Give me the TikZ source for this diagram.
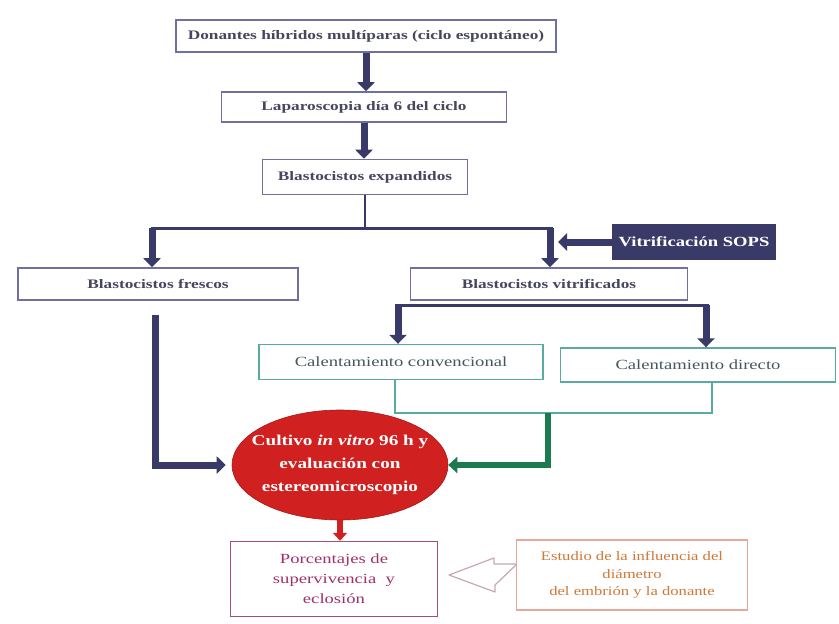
\documentclass[tikz,border=0pt]{standalone}
\usepackage{fontspec}
\setmainfont{Liberation Serif}
\newfontfamily\wideserif[FakeStretch=1.33]{Liberation Serif}
\newfontfamily\wideserifb[FakeStretch=1.28]{Liberation Serif}
\usetikzlibrary{arrows.meta,shapes.geometric}
\definecolor{navy}{HTML}{3A3A68}
\definecolor{boxline}{HTML}{7070A0}
\definecolor{boxtext}{HTML}{46465E}
\definecolor{tealline}{HTML}{5AAAA2}
\definecolor{tealtext}{HTML}{44585C}
\definecolor{darkgreen}{HTML}{1C7A50}
\definecolor{ovalred}{HTML}{D02020}
\definecolor{plum}{HTML}{A05080}
\definecolor{plumtext}{HTML}{A0306A}
\definecolor{peach}{HTML}{E8A898}
\definecolor{orangetext}{HTML}{D07838}
\definecolor{openarrow}{HTML}{C8A8B0}
\tikzset{
  x=1pt, y=-1pt,
  every node/.style={align=center, inner sep=2pt},
  flowbox/.style={draw=boxline, line width=1.6pt, fill=white, text=boxtext,
    font=\wideserif\bfseries\fontsize{13}{15}\selectfont},
  warmbox/.style={draw=tealline, line width=1.4pt, fill=white, text=tealtext,
    font=\wideserif\fontsize{14}{16}\selectfont},
  bigarrow/.style={draw=navy, line width=7pt, -{Triangle[width=17pt,length=9pt]}},
  splitline/.style={draw=navy, line width=3pt},
  greenarrow/.style={draw=darkgreen, line width=6pt, -{Triangle[width=16pt,length=9pt]}},
  redarrow/.style={draw=ovalred, line width=6pt, -{Triangle[width=14pt,length=8pt]}},
}
\begin{document}
\begin{tikzpicture}
\useasboundingbox (0,0) rectangle (839,624);

% main column
\node[flowbox, minimum width=380pt, minimum height=32pt] (donor) at (366,36)
  {Donantes híbridos multíparas (ciclo espontáneo)};
\node[flowbox, minimum width=285pt, minimum height=30pt] (lap) at (364,107)
  {Laparoscopia día 6 del ciclo};
\node[flowbox, minimum width=205pt, minimum height=35pt] (expand) at (365,177)
  {Blastocistos expandidos};
\node[draw=navy, fill=navy, line width=1pt, text=white,
  font=\wideserif\bfseries\fontsize{14}{16}\selectfont,
  minimum width=163pt, minimum height=35pt] (sops) at (694,242) {Vitrificación SOPS};
\node[flowbox, minimum width=280pt, minimum height=32pt] (fresh) at (158,284)
  {Blastocistos frescos};
\node[flowbox, minimum width=277pt, minimum height=32pt] (vitri) at (549,284)
  {Blastocistos vitrificados};
\node[warmbox, minimum width=284pt, minimum height=35pt] (conv) at (401,362)
  {Calentamiento convencional};
\node[warmbox, minimum width=275pt, minimum height=34pt] (direct) at (698,365)
  {Calentamiento directo};

% red culture oval, with its text set on top
\node[ellipse, fill=ovalred, draw=ovalred!80!black, line width=0.6pt,
  minimum width=216pt, minimum height=110pt, inner sep=0pt] (culture) at (340,465) {};
\node[text=white, font=\wideserifb\bfseries\fontsize{15}{23}\selectfont, inner sep=0pt]
  (culturetext) at (culture.center)
  {Cultivo \textit{in vitro} 96 h y\\ evaluación con\\ estereomicroscopio};

\node[draw=plum, line width=1.4pt, fill=white, text=plumtext,
  font=\wideserif\fontsize{14}{20}\selectfont,
  minimum width=207pt, minimum height=75pt] (rates) at (334,579)
  {Porcentajes de\\ supervivencia \ y\\ eclosión};
\node[draw=peach, line width=1.2pt, fill=white, text=orangetext,
  font=\wideserifb\fontsize{13}{17.5}\selectfont,
  minimum width=231pt, minimum height=70pt] (study) at (632,575)
  {Estudio de la influencia del\\ diámetro\\ del embrión y la donante};

% junction points
\coordinate (split) at (365,228);
\coordinate (splitL) at (152,228);
\coordinate (splitR) at (550,228);
\coordinate (sopsTip) at (558,242);
\coordinate (vsplitL) at (398,305);
\coordinate (vsplitR) at (706,305);
\coordinate (freshStart) at (155,315);
\coordinate (warmL) at (395,413);
\coordinate (warmR) at (712,413);
\coordinate (warmMid) at (548,413);

% connectors
\draw[bigarrow] (donor.south) -- (donor.south |- lap.north);
\draw[bigarrow] (lap.south) -- (lap.south |- expand.north);
\draw[draw=navy, line width=1.4pt] (expand.south) -- (split);
\draw[splitline] ([xshift=-1.5pt]splitL) -- ([xshift=3pt]splitR);
\draw[bigarrow] (splitL) -- (splitL |- fresh.north);
\draw[bigarrow] (splitR) -- (splitR |- vitri.north);
\draw[bigarrow] (sops.west) -- (sopsTip);

\draw[splitline] ([xshift=-3pt]vsplitL) -- ([xshift=3pt]vsplitR);
\draw[bigarrow] (vsplitL) -- (vsplitL |- conv.north);
\draw[bigarrow] (vsplitR) -- (vsplitR |- direct.north);

\draw[draw=tealline, line width=1.4pt] (conv.south -| warmL) -- (warmL) -- (warmR) -- (direct.south -| warmR);
\draw[greenarrow] (warmMid) -- (warmMid |- culture.east) -- (culture.east);

\draw[draw=navy, line width=7pt, -{Triangle[width=17pt,length=9pt]}]
  (freshStart) -- (freshStart |- culture.west) -- ([xshift=-6pt]culture.west);

\draw[redarrow] (culture.south) -- (culture.south |- rates.north);

% hollow arrow from the study box
\draw[draw=openarrow, line width=1.2pt, fill=white, line join=round]
  (study.west) ++(0,-11) -- ++(-22,0) -- ++(0,-6) -- (449,575) -- (495,592)
  -- (495,585) -- ([yshift=10pt]study.west) ;
\end{tikzpicture}
\end{document}
